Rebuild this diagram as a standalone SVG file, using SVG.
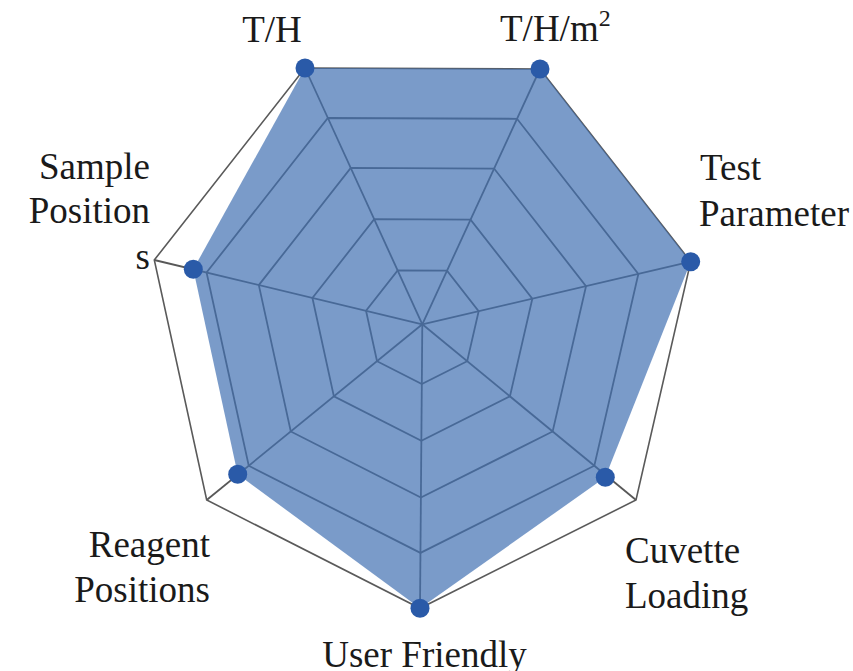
<svg xmlns="http://www.w3.org/2000/svg" width="853" height="671" viewBox="0 0 853 671">
<style>
.grid{fill:none;stroke:#585858;stroke-width:1.8;stroke-linejoin:miter}
.outer{fill:none;stroke:#5a5a5a;stroke-width:1.6}
.area{fill:#4170b2;fill-opacity:0.7;stroke:none}
.dot{fill:#2a5aa8}
.lbl{font-family:"Liberation Serif","Times New Roman",serif;font-size:37px;fill:#1a1a1a}
</style>
<rect width="853" height="671" fill="#ffffff"/>
<g id="connectors">
  <g id="spokes" class="grid">
    <line x1="422.3" y1="324.3" x2="305" y2="68"/>
    <line x1="422.3" y1="324.3" x2="540" y2="69"/>
    <line x1="422.3" y1="324.3" x2="690.7" y2="261.7"/>
    <line x1="422.3" y1="324.3" x2="636" y2="500"/>
    <line x1="422.3" y1="324.3" x2="420" y2="608.3"/>
    <line x1="422.3" y1="324.3" x2="206.7" y2="500"/>
    <line x1="422.3" y1="324.3" x2="154.3" y2="260"/>
  </g>
  <g id="rings" class="grid">
    <polygon points="397.67,270.48 447.02,270.69 478.66,311.15 467.18,361.2 421.82,383.94 377.02,361.2 366.02,310.8"/>
    <polygon points="374.21,219.22 470.56,219.63 532.34,298.63 509.92,396.34 421.36,440.74 333.9,396.34 312.42,297.94"/>
    <polygon points="350.75,167.96 494.1,168.57 586.02,286.11 552.66,431.48 420.9,497.54 290.78,431.48 258.82,285.08"/>
    <polygon points="327.87,117.98 517.05,118.78 638.36,273.91 594.33,465.74 420.45,552.92 248.74,465.74 206.56,272.54"/>
  </g>
  <polygon id="outer-ring" class="outer" points="305,68 540,69 690.7,261.7 636,500 420,608.3 206.7,500 154.3,260"/>
</g>
<polygon id="data-area" class="area" points="305,68 540,69 690.7,261.7 605.3,477.3 420,608.3 237.7,474.3 193.3,269.3"/>
<g id="axis-th">
  <circle class="dot" cx="305" cy="68" r="9.5"/>
  <text class="lbl" x="272" y="42" text-anchor="middle">T/H</text>
</g>
<g id="axis-thm2">
  <circle class="dot" cx="540" cy="69" r="9.5"/>
  <text class="lbl" x="500" y="41">T/H/m<tspan font-size="24" dy="-15">2</tspan></text>
</g>
<g id="axis-test-parameter">
  <circle class="dot" cx="690.7" cy="261.7" r="9.5"/>
  <text class="lbl" x="700" y="180">Test</text>
  <text class="lbl" x="699" y="226">Parameter</text>
</g>
<g id="axis-cuvette-loading">
  <circle class="dot" cx="605.3" cy="477.3" r="9.5"/>
  <text class="lbl" x="625" y="563">Cuvette</text>
  <text class="lbl" x="625" y="608">Loading</text>
</g>
<g id="axis-user-friendly">
  <circle class="dot" cx="420" cy="608.3" r="9.5"/>
  <text class="lbl" x="424.5" y="667" text-anchor="middle">User Friendly</text>
</g>
<g id="axis-reagent-positions">
  <circle class="dot" cx="237.7" cy="474.3" r="9.5"/>
  <text class="lbl" x="210" y="557" text-anchor="end">Reagent</text>
  <text class="lbl" x="210" y="602" text-anchor="end">Positions</text>
</g>
<g id="axis-sample-positions">
  <circle class="dot" cx="193.3" cy="269.3" r="9.5"/>
  <text class="lbl" x="150" y="179" text-anchor="end">Sample</text>
  <text class="lbl" x="150" y="223" text-anchor="end">Position</text>
  <text class="lbl" x="150" y="269" text-anchor="end">s</text>
</g>
</svg>
